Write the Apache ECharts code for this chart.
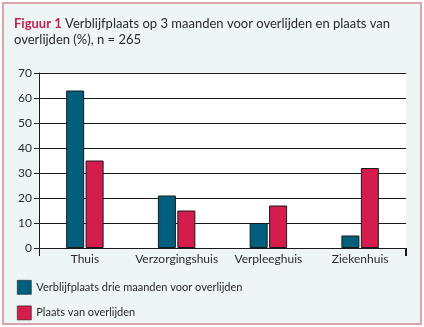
<!DOCTYPE html>
<html><head><meta charset="utf-8">
<script src="https://cdn.jsdelivr.net/npm/echarts@6/dist/echarts.min.js"></script>
<style>html,body{margin:0;padding:0;background:#fff}#c{width:424px;height:327px}</style>
</head><body><div id="c"></div>
<script>
const categories = ['Thuis', 'Verzorgingshuis', 'Verpleeghuis', 'Ziekenhuis'];
const verblijfplaats = [63, 21, 10, 5];
const plaatsOverlijden = [35, 15, 17, 32];
const seriesNames = ['Verblijfplaats drie maanden voor overlijden', 'Plaats van overlijden'];
const yTicks = [0, 10, 20, 30, 40, 50, 60, 70];

const FONT = 'Lato, "Open Sans", sans-serif';
const chart = echarts.init(document.getElementById('c'), null, {renderer: 'canvas'});
chart.setOption({
  animation: false,
  backgroundColor: '#fff',
  textStyle: {fontFamily: FONT},
  graphic: [{
    type: 'rect', z: -10, silent: true,
    shape: {x: 3, y: 3, width: 418, height: 321},
    style: {fill: '#eef5f5', stroke: '#dba3ab', lineWidth: 2}
  }, {
    type: 'line', silent: true, z: 10,
    shape: {x1: 405.5, y1: 248, x2: 405.5, y2: 256},
    style: {stroke: '#1a1a1a', lineWidth: 1}
  }],
  title: {
    left: 9, top: 11,
    text: '{r|Figuur 1} Verblijfplaats op 3 maanden voor overlijden en plaats van\noverlijden (%), n = 265',
    textStyle: {
      fontFamily: FONT, fontSize: 13, fontWeight: 'normal', color: '#2a2a2a', lineHeight: 16,
      rich: {r: {fontFamily: FONT, fontSize: 13, fontWeight: 'bold', color: '#c42050'}}
    }
  },
  legend: {
    type: 'plain', orient: 'vertical', left: 12, top: 275, height: 60,
    itemWidth: 14, itemHeight: 14, itemGap: 11,
    icon: 'rect',
    itemStyle: {borderColor: '#1a1a1a', borderWidth: 0.6},
    textStyle: {fontFamily: FONT, fontSize: 11, color: '#2a2a2a'},
    data: seriesNames
  },
  grid: {left: 39, right: 18, top: 73, bottom: 79, backgroundColor: '#fff', show: true, borderWidth: 0},
  xAxis: {
    type: 'category', data: categories,
    axisLine: {lineStyle: {color: '#1a1a1a', width: 1}},
    axisTick: {show: true, length: 8, lineStyle: {color: '#1a1a1a'},
      interval: function (i) { return i === 0; }},
    axisLabel: {interval: 0, fontFamily: FONT, fontSize: 12, color: '#2a2a2a', margin: 5}
  },
  yAxis: {
    type: 'value', min: 0, max: 70, interval: 10,
    axisLine: {show: true, lineStyle: {color: '#1a1a1a', width: 1}},
    axisTick: {show: true, length: 5, lineStyle: {color: '#1a1a1a'}},
    axisLabel: {fontFamily: FONT, fontSize: 12, color: '#2a2a2a', margin: 7,
      formatter: function (v) { return yTicks.indexOf(v) >= 0 ? String(v) : ''; }},
    splitLine: {show: true, lineStyle: {color: '#1a1a1a', width: 1}}
  },
  series: [
    {name: seriesNames[0], type: 'bar', data: verblijfplaats, barWidth: 18, barGap: '8%',
      itemStyle: {color: '#005f7d', borderColor: '#1a1a1a', borderWidth: 1}},
    {name: seriesNames[1], type: 'bar', data: plaatsOverlijden, barWidth: 18,
      itemStyle: {color: '#d41d4c', borderColor: '#1a1a1a', borderWidth: 1}}
  ]
});
</script></body></html>
